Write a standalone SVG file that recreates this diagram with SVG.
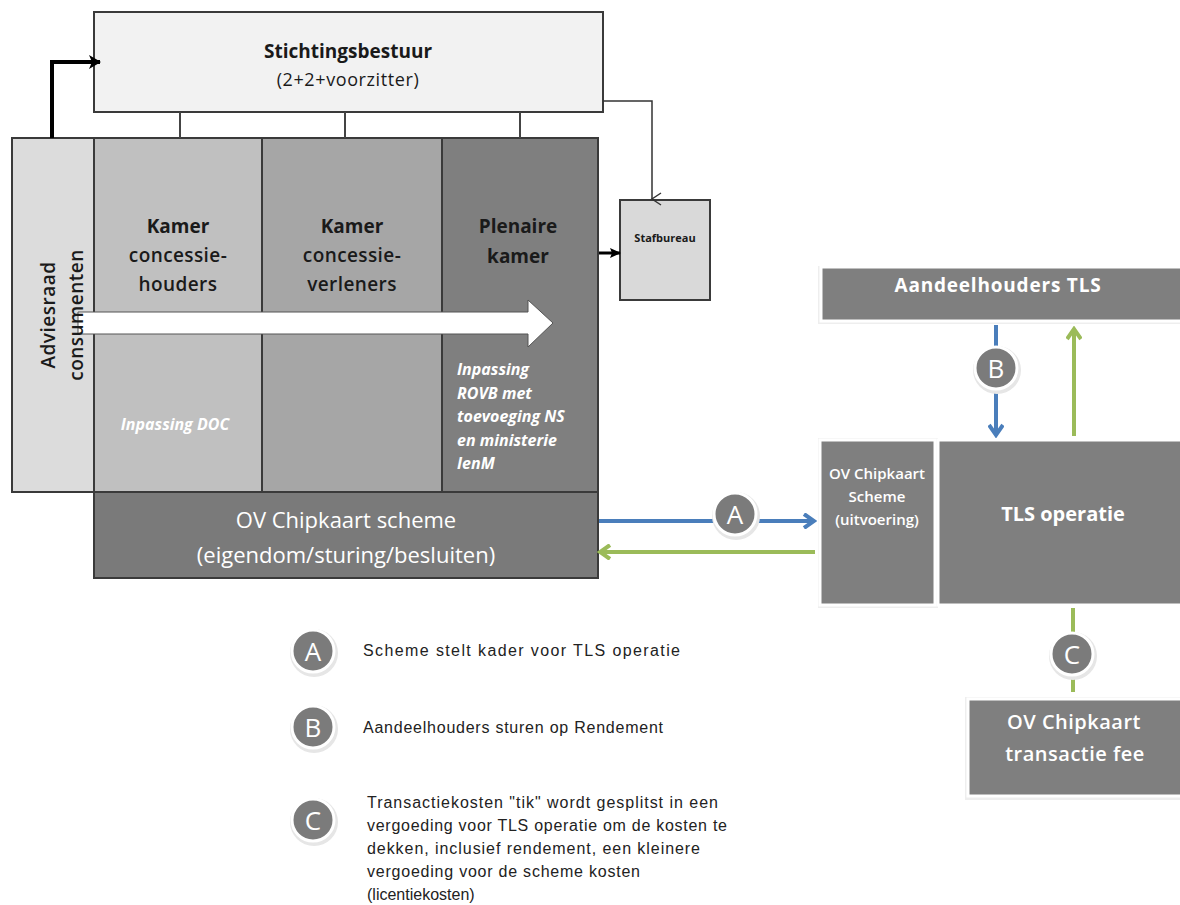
<svg xmlns="http://www.w3.org/2000/svg" width="1180" height="905" viewBox="0 0 1180 905">
<defs>
<style>
.t{font-family:"Open Sans","Liberation Sans",sans-serif;text-anchor:middle}
.b{font-weight:bold}
.w{fill:#ffffff}
.k{fill:#1a1a1a}
.box{stroke:#3a3a3a;stroke-width:2}
.wbox{stroke:#ffffff;stroke-width:3}
.leg{font-family:"Liberation Sans",sans-serif;font-size:16px;fill:#222}
.circ{fill:#7b7b7b;stroke:#ffffff;stroke-width:3}
.ring{fill:#e6e6e6}
.ct{font-family:"Open Sans","Liberation Sans",sans-serif;font-size:26px;fill:#ffffff;text-anchor:middle}
</style>
<marker id="blk" markerWidth="14" markerHeight="14" refX="11" refY="7" orient="auto" markerUnits="userSpaceOnUse"><path d="M0,0 L12,7 L0,14 L3,7 z" fill="#000"/></marker>
<marker id="blks" markerWidth="12" markerHeight="12" refX="10" refY="6" orient="auto" markerUnits="userSpaceOnUse"><path d="M0,1 L11,6 L0,11 L2,6 z" fill="#000"/></marker>
<marker id="open" markerWidth="14" markerHeight="14" refX="7" refY="12" orient="auto" markerUnits="userSpaceOnUse"><path d="M1,3 L7,12 L13,3" fill="none" stroke="#333" stroke-width="1.4"/></marker>
<marker id="blue" markerWidth="16" markerHeight="16" refX="12" refY="8" orient="auto" markerUnits="userSpaceOnUse"><path d="M3,1 L13,8 L3,15" fill="none" stroke="#4a7ebb" stroke-width="4"/></marker>
<marker id="green" markerWidth="16" markerHeight="16" refX="12" refY="8" orient="auto" markerUnits="userSpaceOnUse"><path d="M3,1 L13,8 L3,15" fill="none" stroke="#9bbb59" stroke-width="4"/></marker>
</defs>
<rect width="1180" height="905" fill="#ffffff"/>

<g id="stichtingsbestuur">
<rect x="94" y="12" width="509" height="100" fill="#f2f2f2" class="box"/>
<text class="t b k" x="348" y="58" font-size="19">Stichtingsbestuur</text>
<text class="t k" x="348" y="86" font-size="18" letter-spacing="0.6">(2+2+voorzitter)</text>
</g>

<g id="adviesraad">
<rect x="12" y="138" width="82" height="354" fill="#dcdcdc" class="box"/>
</g>
<g id="kamer-houders">
<rect x="94" y="138" width="168" height="354" fill="#c0c0c0" class="box"/>
<text class="t b k" x="178" y="233" font-size="19">Kamer</text>
<text class="t k" x="178" y="262" font-size="19" font-weight="600" letter-spacing="0.4">concessie-</text>
<text class="t k" x="178" y="291" font-size="19" font-weight="600" letter-spacing="0.4">houders</text>
<text class="t b w" x="175" y="430" font-size="16" font-style="italic">Inpassing DOC</text>
</g>
<g id="kamer-verleners">
<rect x="262" y="138" width="180" height="354" fill="#a6a6a6" class="box"/>
<text class="t b k" x="352" y="233" font-size="19">Kamer</text>
<text class="t k" x="352" y="262" font-size="19" font-weight="600" letter-spacing="0.4">concessie-</text>
<text class="t k" x="352" y="291" font-size="19" font-weight="600" letter-spacing="0.4">verleners</text>
</g>
<g id="plenaire">
<rect x="442" y="138" width="156" height="354" fill="#7f7f7f" class="box"/>
<text class="t b k" x="518" y="233" font-size="19">Plenaire</text>
<text class="t b k" x="518" y="263" font-size="19">kamer</text>
<g font-family="Open Sans,Liberation Sans,sans-serif" font-size="16" font-weight="bold" font-style="italic" fill="#ffffff">
<text x="457" y="375">Inpassing</text>
<text x="457" y="399">ROVB met</text>
<text x="457" y="422">toevoeging NS</text>
<text x="457" y="446">en ministerie</text>
<text x="457" y="469">IenM</text>
</g>
</g>

<g id="ov-scheme">
<rect x="94" y="492" width="504" height="86" fill="#7a7a7a" class="box"/>
<text class="t w" x="346" y="528" font-size="22">OV Chipkaart scheme</text>
<text class="t w" x="346" y="563" font-size="22">(eigendom/sturing/besluiten)</text>
</g>

<g id="stafbureau">
<rect x="620" y="200" width="90" height="100" fill="#d9d9d9" class="box"/>
<text class="t b k" x="665" y="242" font-size="11">Stafbureau</text>
</g>

<g id="aandeelhouders">
<rect x="818" y="266" width="366" height="58" fill="#eeeeee"/>
<rect x="821" y="267" width="362" height="54" fill="#7f7f7f" class="wbox"/>
<text class="t b w" x="998" y="292" font-size="19" letter-spacing="0.8">Aandeelhouders TLS</text>
</g>

<g id="ov-uitvoering">
<rect x="818" y="438" width="120" height="170" fill="#eeeeee"/>
<rect x="820" y="440" width="115" height="165" fill="#7f7f7f" class="wbox"/>
<text class="t w" x="877" y="479" font-size="15" font-weight="600">OV Chipkaart</text>
<text class="t w" x="877" y="502" font-size="15" font-weight="600">Scheme</text>
<text class="t w" x="877" y="525" font-size="15" font-weight="600">(uitvoering)</text>
</g>

<g id="tls-operatie">
<rect x="938" y="440" width="245" height="165" fill="#7f7f7f" class="wbox"/>
<text class="t b w" x="1063" y="521" font-size="20">TLS operatie</text>
</g>

<g id="transactie-fee">
<rect x="965" y="697" width="218" height="103" fill="#eeeeee"/>
<rect x="968" y="699" width="214" height="97" fill="#7f7f7f" class="wbox"/>
<text class="t w" x="1074" y="729" font-size="20" font-weight="600" letter-spacing="0.5">OV Chipkaart</text>
<text class="t w" x="1075" y="761" font-size="20" font-weight="600" letter-spacing="0.5">transactie fee</text>
</g>

<g id="connectors">
<path d="M52,138 V62 H100" fill="none" stroke="#000" stroke-width="4" marker-end="url(#blk)"/>
<line x1="180" y1="112" x2="180" y2="138" stroke="#444" stroke-width="2"/>
<line x1="345" y1="112" x2="345" y2="138" stroke="#444" stroke-width="2"/>
<line x1="520" y1="112" x2="520" y2="138" stroke="#444" stroke-width="2"/>
<path d="M603,101 H652 V199" fill="none" stroke="#333" stroke-width="1.5" marker-end="url(#open)"/>
<line x1="599" y1="253" x2="620" y2="253" stroke="#000" stroke-width="3" marker-end="url(#blks)"/>
<line x1="599" y1="521" x2="813" y2="521" stroke="#4a7ebb" stroke-width="4" marker-end="url(#blue)"/>
<line x1="815" y1="552" x2="601" y2="552" stroke="#9bbb59" stroke-width="4" marker-end="url(#green)"/>
<line x1="996" y1="325" x2="996" y2="434" stroke="#4a7ebb" stroke-width="4" marker-end="url(#blue)"/>
<line x1="1074" y1="436" x2="1074" y2="330" stroke="#9bbb59" stroke-width="4" marker-end="url(#green)"/>
<line x1="1073" y1="608" x2="1073" y2="692" stroke="#9bbb59" stroke-width="4"/>
</g>

<g id="flow-arrow">
<path d="M78,312 H528 V300 L553,323 L528,347 V334 H78 Z" fill="#ffffff" stroke="#555" stroke-width="1"/>
</g>
<g id="adviesraad-label">
<text class="t k" font-size="19" font-weight="600" letter-spacing="0.5" transform="translate(55,315) rotate(-90)">Adviesraad</text>
<text class="t k" font-size="19" font-weight="600" letter-spacing="0.5" transform="translate(83,315) rotate(-90)">consumenten</text>
</g>

<g id="badge-A">
<circle cx="736" cy="516" r="24" class="ring"/>
<circle cx="735" cy="514" r="21" class="circ"/>
<text class="ct" x="735" y="524">A</text>
</g>
<g id="badge-B">
<circle cx="997" cy="370" r="24" class="ring"/>
<circle cx="996" cy="368" r="21" class="circ"/>
<text class="ct" x="996" y="378">B</text>
</g>
<g id="badge-C">
<circle cx="1073" cy="656" r="24" class="ring"/>
<circle cx="1072" cy="654" r="21" class="circ"/>
<text class="ct" x="1072" y="664">C</text>
</g>

<g id="legend">
<circle cx="314" cy="653" r="24" class="ring"/>
<circle cx="313" cy="651" r="21" class="circ"/>
<text class="ct" x="313" y="661">A</text>
<text class="leg" x="363" y="656" textLength="317">Scheme stelt kader voor TLS operatie</text>
<circle cx="314" cy="729" r="24" class="ring"/>
<circle cx="313" cy="727" r="21" class="circ"/>
<text class="ct" x="313" y="737">B</text>
<text class="leg" x="363" y="733" textLength="300">Aandeelhouders sturen op Rendement</text>
<circle cx="314" cy="822" r="24" class="ring"/>
<circle cx="313" cy="820" r="21" class="circ"/>
<text class="ct" x="313" y="830">C</text>
<text class="leg" x="367" y="808" textLength="351">Transactiekosten "tik" wordt gesplitst in een</text>
<text class="leg" x="367" y="831" textLength="360">vergoeding voor TLS operatie om de kosten te</text>
<text class="leg" x="367" y="854" textLength="333">dekken, inclusief rendement, een kleinere</text>
<text class="leg" x="367" y="877" textLength="273">vergoeding voor de scheme kosten</text>
<text class="leg" x="367" y="900">(licentiekosten)</text>
</g>
</svg>
